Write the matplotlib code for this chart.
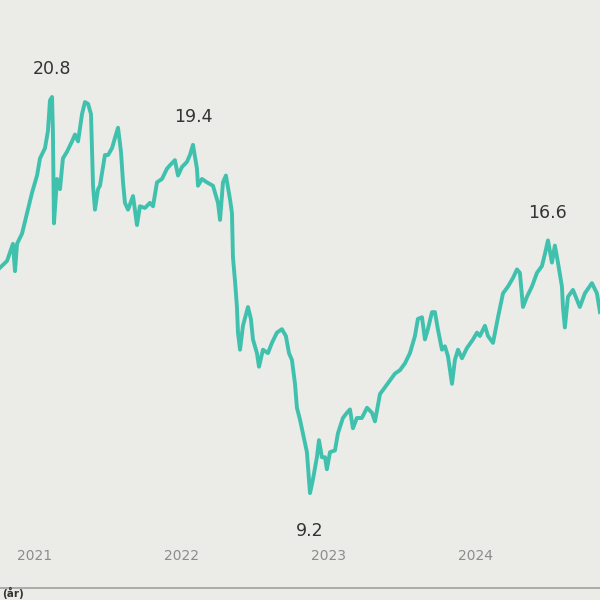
import matplotlib.pyplot as plt

# --- data (decimal year, price) ---
years = [
    2020.762, 2020.810, 2020.850, 2020.864, 2020.878, 2020.912, 2020.946, 2020.980,
    2021.014, 2021.034, 2021.068, 2021.088, 2021.102, 2021.116, 2021.122, 2021.129,
    2021.150, 2021.170, 2021.190, 2021.218, 2021.252, 2021.272, 2021.293, 2021.320,
    2021.340, 2021.361, 2021.381, 2021.395, 2021.408, 2021.429, 2021.442, 2021.476,
    2021.497, 2021.524, 2021.544, 2021.565, 2021.585, 2021.599, 2021.612, 2021.633,
    2021.667, 2021.694, 2021.714, 2021.748, 2021.782, 2021.803, 2021.830, 2021.864,
    2021.898, 2021.918, 2021.952, 2021.973, 2022.000, 2022.034, 2022.054, 2022.075,
    2022.102, 2022.109, 2022.136, 2022.170, 2022.211, 2022.245, 2022.259, 2022.279,
    2022.299, 2022.327, 2022.340, 2022.347, 2022.361, 2022.374, 2022.381, 2022.395,
    2022.415, 2022.449, 2022.469, 2022.483, 2022.510, 2022.524, 2022.551, 2022.585,
    2022.612, 2022.646, 2022.680, 2022.707, 2022.728, 2022.748, 2022.769, 2022.782,
    2022.803, 2022.823, 2022.850, 2022.871, 2022.891, 2022.918, 2022.932, 2022.952,
    2022.973, 2022.986, 2023.007, 2023.041, 2023.061, 2023.095, 2023.122, 2023.143,
    2023.163, 2023.190, 2023.224, 2023.259, 2023.293, 2023.313, 2023.347, 2023.381,
    2023.415, 2023.449, 2023.483, 2023.517, 2023.551, 2023.585, 2023.605, 2023.633,
    2023.653, 2023.673, 2023.701, 2023.721, 2023.741, 2023.769, 2023.789, 2023.810,
    2023.837, 2023.857, 2023.878, 2023.905, 2023.939, 2023.980, 2024.007, 2024.027,
    2024.061, 2024.082, 2024.116, 2024.150, 2024.184, 2024.218, 2024.252, 2024.279,
    2024.299, 2024.320, 2024.347, 2024.381, 2024.415, 2024.449, 2024.469, 2024.490,
    2024.517, 2024.537, 2024.558, 2024.585, 2024.592, 2024.605, 2024.626, 2024.660,
    2024.707, 2024.741, 2024.789, 2024.823, 2024.844,
]
prices = [
    15.8, 16.0, 16.5, 15.7, 16.5, 16.8, 17.4, 18.0,
    18.5, 19.0, 19.3, 19.8, 20.7, 20.8, 19.8, 17.1,
    18.4, 18.1, 19.0, 19.2, 19.5, 19.7, 19.5, 20.3,
    20.65, 20.6, 20.3, 18.2, 17.5, 18.1, 18.2, 19.1,
    19.1, 19.3, 19.6, 19.9, 19.2, 18.3, 17.7, 17.5,
    17.9, 17.05, 17.6, 17.55, 17.7, 17.6, 18.3, 18.4,
    18.7, 18.8, 18.95, 18.5, 18.75, 18.9, 19.1, 19.4,
    18.7, 18.2, 18.4, 18.3, 18.2, 17.7, 17.2, 18.3,
    18.5, 17.8, 17.4, 16.1, 15.4, 14.65, 13.9, 13.4,
    14.1, 14.65, 14.3, 13.7, 13.3, 12.9, 13.4, 13.3,
    13.6, 13.9, 14.0, 13.8, 13.3, 13.1, 12.4, 11.7,
    11.35, 10.95, 10.4, 9.2, 9.6, 10.25, 10.75, 10.25,
    10.25, 9.9, 10.4, 10.45, 10.95, 11.4, 11.55, 11.65,
    11.1, 11.4, 11.4, 11.7, 11.55, 11.3, 12.1, 12.3,
    12.5, 12.7, 12.8, 13.0, 13.3, 13.8, 14.3, 14.35,
    13.7, 14.0, 14.5, 14.5, 14.0, 13.4, 13.5, 13.2,
    12.4, 13.1, 13.4, 13.15, 13.45, 13.7, 13.9, 13.8,
    14.1, 13.8, 13.6, 14.35, 15.05, 15.25, 15.5, 15.75,
    15.65, 14.65, 14.95, 15.25, 15.65, 15.85, 16.2, 16.6,
    15.95, 16.45, 15.95, 15.25, 14.65, 14.05, 14.95, 15.15,
    14.65, 15.05, 15.35, 15.05, 14.5,
]
year_ticks = [2021, 2022, 2023, 2024]
marked = [(2021.116, 20.8, 'up'), (2022.075, 19.4, 'up'),
          (2022.871, 9.2, 'down'), (2024.490, 16.6, 'up')]

line_color = '#3fc1ae'
bg = '#ebebe7'

fig = plt.figure(figsize=(6, 6), dpi=100)
fig.patch.set_facecolor(bg)
ax = fig.add_axes([0, 0, 1, 1])
ax.set_facecolor(bg)

ax.plot(years, prices, color=line_color, lw=2.8, solid_joinstyle='round')

# peak / trough labels
for x, v, side in marked:
    off = 20 if side == 'up' else -27
    ax.annotate(f'{v:.1f}', (x, v), xytext=(0, off), textcoords='offset points',
                ha='center', va='center', fontsize=12.5, color='#333333')

ax.set_xlim(2020.762, 2024.844)
ax.set_ylim(6.07, 23.64)

# year labels sit inside the plot, above the base line
for yr in year_ticks:
    ax.text(yr, 0.073, str(yr), transform=ax.get_xaxis_transform(),
            ha='center', va='center', fontsize=10, color='#8c8c8c')

ax.axhline(6.07 + (23.64 - 6.07) * 0.02, color='#a0a0a0', lw=1.2)
ax.text(0.003, 0.001, '(år)', transform=ax.transAxes, ha='left', va='bottom',
        fontsize=7.5, fontweight='bold', color='#333333')

ax.axis('off')
fig.savefig('out.png', dpi=100, facecolor=bg)
